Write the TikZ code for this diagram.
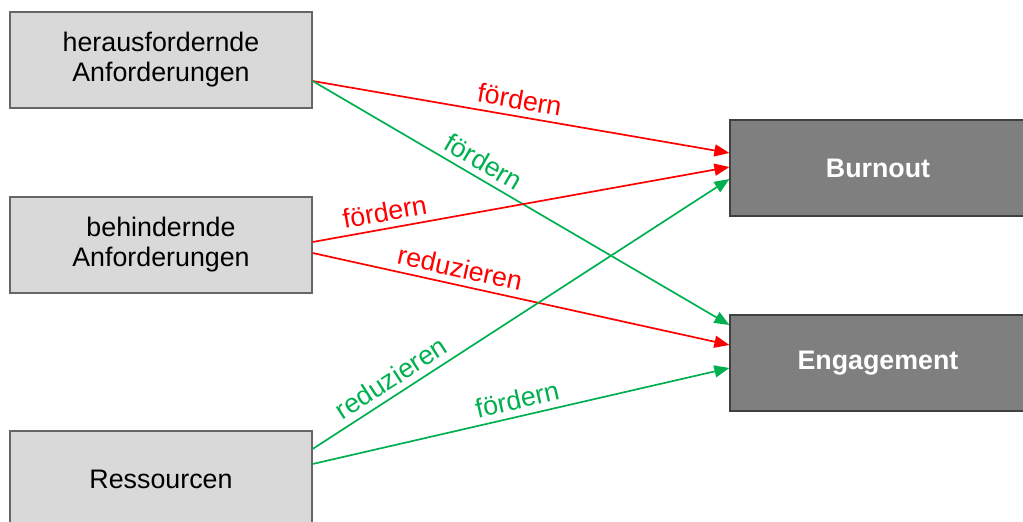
\documentclass[tikz,border=0pt]{standalone}
\usepackage{fontspec}
\setmainfont{Liberation Sans}
\usetikzlibrary{arrows.meta}
\definecolor{boxgray}{HTML}{D9D9D9}
\definecolor{darkbox}{HTML}{7F7F7F}
\definecolor{okgreen}{HTML}{00B050}

\begin{document}
\begin{tikzpicture}[x=1pt, y=-1pt,
    leftbox/.style={draw=black!60, line width=1.2pt, fill=boxgray, minimum width=302pt, minimum height=96pt, align=center, font=\fontsize{26.8}{30}\selectfont},
    rightbox/.style={draw=black!75, line width=1.2pt, fill=darkbox, text=white, minimum width=296pt, minimum height=96pt, font=\fontsize{26.8}{30}\selectfont\bfseries},
    link/.style={line width=1.7pt, -{Triangle[length=15pt, width=12pt]}},
    lbl/.style={sloped, above=3pt, font=\fontsize{26.8}{30}\selectfont}]
    \useasboundingbox (0,0) rectangle (1023,522);
    % Ausgangsgroessen links
    \node[leftbox] (hinf) at (161,60) {herausfordernde\\Anforderungen};
    \node[leftbox] (binf) at (161,245) {behindernde\\Anforderungen};
    \node[leftbox] (ress) at (161,479) {Ressourcen};
    % Folgen rechts
    \node[rightbox] (burn) at (878,168) {Burnout};
    \node[rightbox] (enga) at (878,363) {Engagement};
    % Pfeile
    \draw[link, red] ([yshift=-21pt]hinf.east) -- node[lbl, pos=0.49]{fördern} ([yshift=15pt]burn.west);
    \draw[link, okgreen] ([yshift=-21pt]hinf.east) -- node[lbl, pos=0.39]{fördern} ([yshift=38pt]enga.west);
    \draw[link, red] ([yshift=3pt]binf.east) -- node[lbl, pos=0.18]{fördern} ([yshift=1pt]burn.west);
    \draw[link, red] ([yshift=-8pt]binf.east) -- node[lbl, pos=0.345]{reduzieren} ([yshift=18pt]enga.west);
    \draw[link, okgreen] ([yshift=30pt]ress.east) -- node[lbl, pos=0.21]{reduzieren} ([yshift=-11pt]burn.west);
    \draw[link, okgreen] ([yshift=15pt]ress.east) -- node[lbl, pos=0.5]{fördern} ([yshift=-5pt]enga.west);
\end{tikzpicture}
\end{document}
